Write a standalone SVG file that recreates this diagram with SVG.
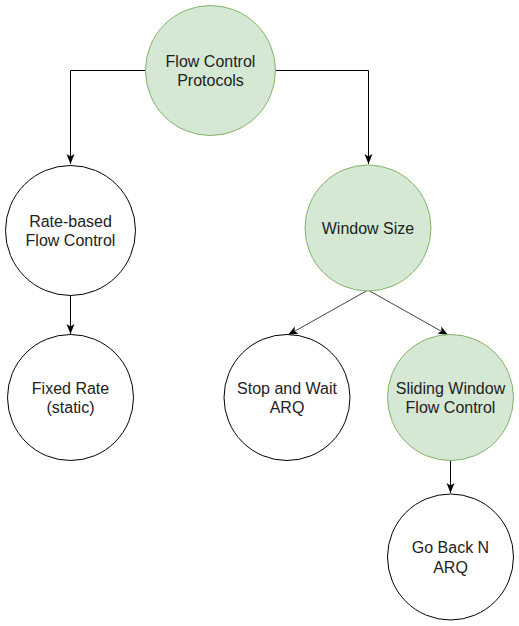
<svg xmlns="http://www.w3.org/2000/svg" width="519" height="626" viewBox="0 0 519 626">
<defs>
<style>
.n{fill:#fff;stroke:#000;stroke-width:1}
.g{fill:#d5e8d4;stroke:#82b366;stroke-width:1}
.t{font-family:"Liberation Sans",Arial,sans-serif;font-size:16px;fill:#222;text-anchor:middle}
.c{fill:none;stroke:#000;stroke-width:1}
.d{fill:none;stroke:#444;stroke-width:1}
</style>
<marker id="a" viewBox="0 0 10 10" refX="10" refY="5" markerWidth="10" markerHeight="10" markerUnits="userSpaceOnUse" orient="auto">
<path d="M0,1 L10,5 L0,9 L2.5,5 Z" fill="#000"/>
</marker>
</defs>
<rect width="519" height="626" fill="#fff"/>
<g id="connectors">
<path class="c" d="M145,70.5 H70.5 V164" marker-end="url(#a)"/>
<path class="c" d="M275,70.5 H368.5 V164" marker-end="url(#a)"/>
<path class="c" d="M70.5,295 V334" marker-end="url(#a)"/>
<path class="d" d="M368,290 L288,335" marker-end="url(#a)"/>
<path class="d" d="M368,290 L448,335" marker-end="url(#a)"/>
<path class="c" d="M450.5,460 V493" marker-end="url(#a)"/>
</g>
<g id="flow-control-protocols">
<circle class="g" cx="210.5" cy="70.5" r="65"/>
<text class="t" x="210.5" y="66.5">Flow Control</text>
<text class="t" x="210.5" y="86">Protocols</text>
</g>
<g id="rate-based">
<circle class="n" cx="70.5" cy="230.5" r="65"/>
<text class="t" x="70.5" y="226.5">Rate-based</text>
<text class="t" x="70.5" y="246">Flow Control</text>
</g>
<g id="fixed-rate">
<circle class="n" cx="70.5" cy="397.5" r="63"/>
<text class="t" x="70.5" y="393.5">Fixed Rate</text>
<text class="t" x="70.5" y="413">(static)</text>
</g>
<g id="window-size">
<circle class="g" cx="368" cy="228" r="63"/>
<text class="t" x="368" y="234">Window Size</text>
</g>
<g id="stop-and-wait">
<circle class="n" cx="287" cy="397.5" r="63"/>
<text class="t" x="287" y="393.5">Stop and Wait</text>
<text class="t" x="287" y="413">ARQ</text>
</g>
<g id="sliding-window">
<circle class="g" cx="450.5" cy="397.5" r="63"/>
<text class="t" x="450.5" y="393.5">Sliding Window</text>
<text class="t" x="450.5" y="413">Flow Control</text>
</g>
<g id="go-back-n">
<circle class="n" cx="450.5" cy="557" r="63"/>
<text class="t" x="450.5" y="553">Go Back N</text>
<text class="t" x="450.5" y="572.5">ARQ</text>
</g>
</svg>
